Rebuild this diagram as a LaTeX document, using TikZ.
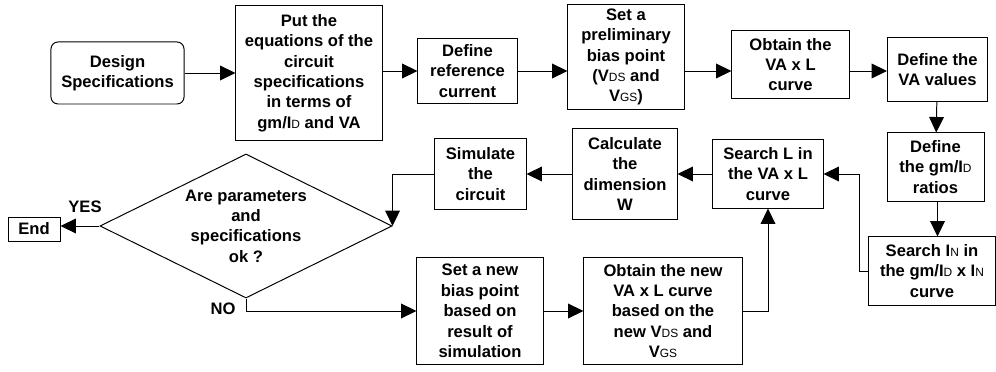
\documentclass[tikz,border=0pt]{standalone}
\usepackage{fontspec}
\setmainfont{Liberation Sans}
\usepackage{tikz}
\usetikzlibrary{shapes.geometric,
                arrows.meta,
                calc,
                positioning}
\tikzstyle{box} = [rectangle, draw=black, line width=0.7pt, align=center, inner sep=0pt, text centered]
\tikzstyle{startstop} = [box, rounded corners=5pt]
\tikzstyle{decision} = [diamond, draw=black, line width=0.7pt, align=center, inner sep=0pt, aspect=2]
\tikzstyle{arrow} = [line width=0.7pt, -{Triangle[length=11pt, width=10.5pt]}]
\tikzstyle{plain} = [line width=0.7pt]
\newcommand{\lo}[1]{{\fontsize{8.5}{10}\selectfont\mdseries #1}}

\begin{document}
\begin{tikzpicture}[x=0.025cm, y=-0.025cm,
    font=\fontsize{11.8}{14.5}\selectfont\bfseries]
        \useasboundingbox (0,0) rectangle (996,372);
        % top row
        \node (spec) [startstop, minimum width=3.325cm, minimum height=1.55cm] at (117.5,73) {Design\\Specifications};
        \node (eqs) [box, minimum width=3.65cm, minimum height=3.35cm] at (309,73) {Put the\\equations of the\\circuit\\specifications\\in terms of\\gm/I\lo{D} and VA};
        \node (refc) [box, minimum width=2.475cm, minimum height=1.625cm] at (467.5,71) {Define\\reference\\current};
        \node (prelim) [box, minimum width=2.9cm, minimum height=2.6cm] at (626,57) {Set a\\preliminary\\bias point\\(V\lo{DS} and\\V\lo{GS})};
        \node (vaxl) [box, minimum width=2.925cm, minimum height=1.675cm] at (790.5,64.5) {Obtain the\\VA x L\\curve};
        \node (vaval) [box, minimum width=2.5cm, minimum height=1.6cm] at (937.5,69.5) {Define the\\VA values};
        % right column
        \node (ratio) [box, minimum width=2.425cm, minimum height=1.7cm] at (935.5,167) {Define\\the gm/I\lo{D}\\ratios};
        \node (srchin) [box, minimum width=3.15cm, minimum height=1.7cm] at (932,271) {Search I\lo{N} in\\the gm/I\lo{D} x I\lo{N}\\curve};
        % middle row
        \node (srchl) [box, minimum width=2.75cm, minimum height=1.7cm] at (768,174) {Search L in\\the VA x L\\curve};
        \node (calc) [box, minimum width=2.6cm, minimum height=2.25cm] at (625,174) {Calculate\\the\\dimension\\W};
        \node (sim) [box, minimum width=2.275cm, minimum height=1.75cm] at (480.5,174) {Simulate\\the\\circuit};
        \node (dec) [decision, minimum width=7.3cm, minimum height=3.6cm] at (246,226) {Are parameters\\and\\specifications\\ok ?};
        \node (endb) [box, minimum width=1.3cm, minimum height=0.6cm] at (34,229) {End};
        % bottom row
        \node (newbias) [box, minimum width=3.15cm, minimum height=2.65cm] at (480,311) {Set a new\\bias point\\based on\\result of\\simulation};
        \node (newvaxl) [box, minimum width=3.95cm, minimum height=2.65cm] at (663,311) {Obtain the new\\VA x L curve\\based on the\\new V\lo{DS} and\\V\lo{GS}};
        \node (yes) at (85,207) {YES};
        \node (no) at (223,309) {NO};
        % connectors
        \draw [arrow] (spec) -- (eqs);
        \draw [arrow] (eqs.east |- refc) -- (refc.west);
        \draw [arrow] (refc.east) -- (refc.east -| prelim.west);
        \draw [arrow] (prelim.east |- refc.east) -- (vaxl.west |- refc.east);
        \draw [arrow] (vaxl.east |- refc.east) -- (vaval.west |- refc.east);
        \draw [arrow] (vaval) -- (ratio);
        \draw [arrow] (ratio.south -| vaval) -- (srchin.north -| vaval);
        \draw [arrow] (srchin.west) -- ++(-9,0) |- (srchl.east);
        \draw [arrow] (srchl) -- (calc);
        \draw [arrow] (calc) -- (sim);
        \draw [arrow] (sim.west) -| (dec.east);
        \draw [arrow] (dec.west) -- (dec.west -| endb.east);
        \draw [arrow] (dec.south) |- (newbias.west);
        \draw [arrow] (newbias) -- (newvaxl);
        \draw [arrow] (newvaxl.east) -| (srchl.south);
\end{tikzpicture}
\end{document}
